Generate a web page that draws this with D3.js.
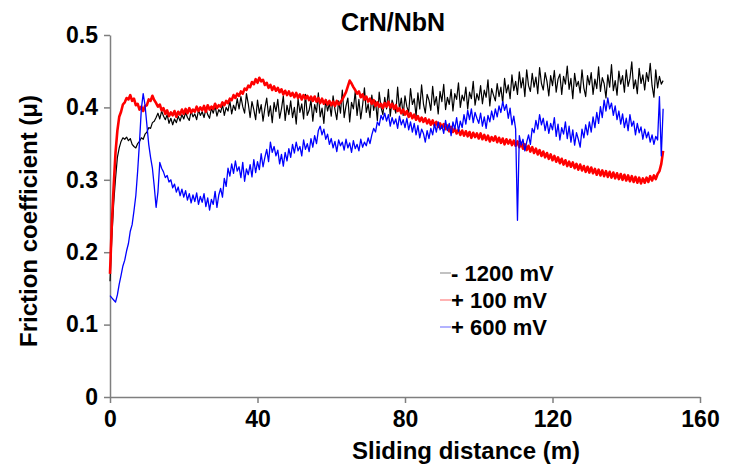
<!DOCTYPE html>
<html>
<head>
<meta charset="utf-8">
<script src="https://cdn.jsdelivr.net/npm/d3@7"></script>
<style>
  body { margin: 0; background: #fff; }
  svg text { font-family: "Liberation Sans", Arial, sans-serif; font-weight: bold; }
</style>
</head>
<body>
<div id="chart"></div>
<script>
// readings were logged every 0.5 m of sliding, from 0 to 150 m
const distanceStep = 0.5;
const xTicks = [0, 40, 80, 120, 160];
const yTicks = [0, 0.1, 0.2, 0.3, 0.4, 0.5];
const seriesNames = ["- 1200 mV", "+ 100 mV", "+ 600 mV"];

// - 1200 mV
const minus1200 = [
  0.160, 0.220, 0.268, 0.302, 0.331, 0.344, 0.353, 0.358, 0.356, 0.359,
  0.354, 0.357, 0.349, 0.346, 0.344, 0.350, 0.353, 0.358, 0.356, 0.363,
  0.366, 0.372, 0.371, 0.379, 0.381, 0.386, 0.392, 0.384, 0.395, 0.388,
  0.383, 0.390, 0.378, 0.385, 0.376, 0.384, 0.379, 0.388, 0.381, 0.390,
  0.384, 0.393, 0.386, 0.382, 0.395, 0.387, 0.391, 0.383, 0.396, 0.389,
  0.394, 0.386, 0.398, 0.390, 0.385, 0.399, 0.392, 0.402, 0.388, 0.397,
  0.393, 0.404, 0.389, 0.400, 0.395, 0.409, 0.391, 0.403, 0.396, 0.412,
  0.398, 0.415, 0.401, 0.392, 0.419, 0.405, 0.386, 0.408, 0.397, 0.383,
  0.410, 0.392, 0.404, 0.381, 0.399, 0.413, 0.388, 0.402, 0.379, 0.407,
  0.394, 0.411, 0.385, 0.398, 0.416, 0.382, 0.403, 0.390, 0.409, 0.386,
  0.400, 0.377, 0.412, 0.393, 0.405, 0.384, 0.418, 0.389, 0.396, 0.410,
  0.381, 0.404, 0.393, 0.420, 0.387, 0.399, 0.378, 0.411, 0.395, 0.406,
  0.388, 0.416, 0.397, 0.383, 0.409, 0.392, 0.424, 0.386, 0.402, 0.413,
  0.380, 0.407, 0.398, 0.422, 0.389, 0.411, 0.384, 0.403, 0.427, 0.393,
  0.405, 0.386, 0.417, 0.396, 0.409, 0.382, 0.421, 0.400, 0.390, 0.414,
  0.398, 0.425, 0.388, 0.410, 0.402, 0.392, 0.428, 0.397, 0.413, 0.389,
  0.416, 0.401, 0.393, 0.426, 0.404, 0.412, 0.388, 0.420, 0.398, 0.431,
  0.405, 0.392, 0.418, 0.410, 0.396, 0.429, 0.403, 0.415, 0.391, 0.422,
  0.408, 0.432, 0.397, 0.414, 0.404, 0.425, 0.395, 0.419, 0.411, 0.434,
  0.400, 0.417, 0.409, 0.428, 0.398, 0.421, 0.412, 0.436, 0.403, 0.419,
  0.410, 0.430, 0.405, 0.424, 0.414, 0.438, 0.402, 0.426, 0.417, 0.409,
  0.433, 0.415, 0.428, 0.406, 0.440, 0.420, 0.431, 0.412, 0.445, 0.423,
  0.436, 0.418, 0.449, 0.427, 0.441, 0.415, 0.452, 0.430, 0.422, 0.447,
  0.428, 0.442, 0.419, 0.455, 0.433, 0.424, 0.448, 0.436, 0.416, 0.444,
  0.430, 0.451, 0.421, 0.439, 0.446, 0.418, 0.443, 0.432, 0.457, 0.425,
  0.440, 0.412, 0.447, 0.429, 0.436, 0.420, 0.452, 0.427, 0.415, 0.444,
  0.431, 0.448, 0.418, 0.439, 0.426, 0.456, 0.422, 0.441, 0.433, 0.413,
  0.445, 0.428, 0.459, 0.423, 0.437, 0.417, 0.450, 0.432, 0.444, 0.421,
  0.452, 0.429, 0.440, 0.463, 0.426, 0.438, 0.419, 0.454, 0.433, 0.445,
  0.424, 0.448, 0.436, 0.461, 0.430, 0.414, 0.452, 0.427, 0.443, 0.432,
  0.437
];

// + 100 mV
const plus100 = [
  0.170, 0.240, 0.292, 0.338, 0.368, 0.387, 0.394, 0.404, 0.407, 0.413,
  0.411, 0.417, 0.409, 0.412, 0.403, 0.405, 0.397, 0.401, 0.395, 0.402,
  0.403, 0.411, 0.409, 0.416, 0.410, 0.406, 0.401, 0.404, 0.396, 0.399,
  0.391, 0.396, 0.388, 0.393, 0.389, 0.395, 0.387, 0.394, 0.390, 0.397,
  0.391, 0.398, 0.392, 0.399, 0.393, 0.397, 0.394, 0.401, 0.395, 0.400,
  0.396, 0.402, 0.394, 0.403, 0.397, 0.401, 0.398, 0.405, 0.399, 0.403,
  0.401, 0.407, 0.403, 0.409, 0.406, 0.412, 0.410, 0.417, 0.413, 0.419,
  0.416, 0.422, 0.419, 0.426, 0.424, 0.430, 0.428, 0.435, 0.432, 0.439,
  0.434, 0.441, 0.436, 0.438, 0.431, 0.434, 0.427, 0.431, 0.424, 0.429,
  0.423, 0.427, 0.421, 0.425, 0.418, 0.423, 0.417, 0.422, 0.416, 0.420,
  0.414, 0.420, 0.413, 0.418, 0.411, 0.417, 0.412, 0.416, 0.410, 0.415,
  0.409, 0.415, 0.408, 0.413, 0.406, 0.412, 0.405, 0.410, 0.404, 0.409,
  0.403, 0.408, 0.402, 0.409, 0.404, 0.407, 0.411, 0.416, 0.421, 0.429,
  0.437, 0.433, 0.428, 0.424, 0.419, 0.422, 0.414, 0.418, 0.411, 0.415,
  0.408, 0.412, 0.405, 0.410, 0.402, 0.407, 0.401, 0.405, 0.399, 0.406,
  0.401, 0.408, 0.400, 0.405, 0.398, 0.403, 0.395, 0.399, 0.392, 0.397,
  0.390, 0.395, 0.387, 0.392, 0.385, 0.390, 0.383, 0.388, 0.381, 0.386,
  0.380, 0.385, 0.378, 0.383, 0.376, 0.382, 0.375, 0.380, 0.373, 0.378,
  0.372, 0.377, 0.370, 0.375, 0.367, 0.373, 0.366, 0.371, 0.364, 0.369,
  0.362, 0.368, 0.361, 0.367, 0.360, 0.366, 0.358, 0.365, 0.359, 0.364,
  0.357, 0.364, 0.356, 0.362, 0.355, 0.361, 0.353, 0.359, 0.354, 0.360,
  0.352, 0.358, 0.351, 0.357, 0.349, 0.356, 0.350, 0.355, 0.348, 0.354,
  0.347, 0.353, 0.345, 0.351, 0.343, 0.349, 0.341, 0.347, 0.339, 0.345,
  0.337, 0.343, 0.335, 0.341, 0.333, 0.339, 0.331, 0.337, 0.329, 0.335,
  0.327, 0.333, 0.325, 0.331, 0.323, 0.329, 0.321, 0.327, 0.319, 0.325,
  0.318, 0.324, 0.316, 0.322, 0.314, 0.321, 0.313, 0.319, 0.311, 0.318,
  0.310, 0.317, 0.309, 0.315, 0.307, 0.314, 0.306, 0.313, 0.305, 0.312,
  0.304, 0.311, 0.303, 0.310, 0.302, 0.309, 0.301, 0.308, 0.300, 0.307,
  0.299, 0.306, 0.298, 0.305, 0.297, 0.304, 0.296, 0.303, 0.295, 0.302,
  0.296, 0.303, 0.297, 0.305, 0.299, 0.306, 0.301, 0.308, 0.312, 0.322,
  0.340
];

// + 600 mV
const plus600 = [
  0.140, 0.137, 0.134, 0.131, 0.141, 0.156, 0.168, 0.181, 0.189, 0.202,
  0.212, 0.229, 0.238, 0.257, 0.278, 0.312, 0.352, 0.398, 0.419, 0.403,
  0.376, 0.349, 0.331, 0.316, 0.291, 0.262, 0.283, 0.324, 0.316, 0.311,
  0.303, 0.306, 0.297, 0.300, 0.289, 0.294, 0.283, 0.290, 0.278, 0.287,
  0.276, 0.285, 0.272, 0.281, 0.268, 0.279, 0.270, 0.282, 0.266, 0.277,
  0.269, 0.281, 0.263, 0.275, 0.258, 0.273, 0.266, 0.284, 0.262, 0.279,
  0.288, 0.276, 0.302, 0.291, 0.316, 0.305, 0.322, 0.309, 0.326, 0.312,
  0.318, 0.303, 0.324, 0.298, 0.315, 0.307, 0.321, 0.304, 0.328, 0.310,
  0.325, 0.314, 0.336, 0.318, 0.331, 0.342, 0.325, 0.352, 0.338, 0.346,
  0.333, 0.341, 0.322, 0.335, 0.319, 0.338, 0.326, 0.343, 0.331, 0.349,
  0.337, 0.352, 0.340, 0.346, 0.333, 0.355, 0.342, 0.350, 0.339, 0.357,
  0.345, 0.361, 0.350, 0.368, 0.374, 0.362, 0.370, 0.356, 0.363, 0.349,
  0.357, 0.344, 0.353, 0.339, 0.355, 0.347, 0.352, 0.341, 0.356, 0.344,
  0.351, 0.338, 0.354, 0.343, 0.349, 0.340, 0.356, 0.345, 0.352, 0.347,
  0.358, 0.350, 0.362, 0.371, 0.366, 0.380, 0.375, 0.389, 0.383, 0.392,
  0.381, 0.390, 0.374, 0.386, 0.377, 0.384, 0.371, 0.388, 0.376, 0.383,
  0.372, 0.385, 0.369, 0.380, 0.366, 0.378, 0.362, 0.375, 0.358, 0.370,
  0.364, 0.352, 0.368, 0.357, 0.371, 0.362, 0.377, 0.366, 0.380, 0.369,
  0.375, 0.364, 0.382, 0.368, 0.378, 0.361, 0.380, 0.370, 0.386, 0.367,
  0.381, 0.372, 0.390, 0.377, 0.396, 0.383, 0.398, 0.379, 0.393, 0.385,
  0.378, 0.392, 0.374, 0.387, 0.371, 0.389, 0.380, 0.395, 0.383, 0.398,
  0.387, 0.402, 0.393, 0.408, 0.396, 0.404, 0.385, 0.399, 0.376, 0.388,
  0.370, 0.244, 0.361, 0.348, 0.356, 0.340, 0.352, 0.362, 0.349, 0.371,
  0.365, 0.382, 0.370, 0.390, 0.376, 0.385, 0.368, 0.381, 0.364, 0.378,
  0.369, 0.386, 0.360, 0.377, 0.355, 0.372, 0.363, 0.380, 0.357, 0.374,
  0.352, 0.369, 0.348, 0.365, 0.356, 0.345, 0.370, 0.358, 0.376, 0.362,
  0.380, 0.366, 0.387, 0.372, 0.393, 0.378, 0.401, 0.386, 0.410, 0.395,
  0.413, 0.398, 0.406, 0.389, 0.402, 0.383, 0.395, 0.377, 0.391, 0.372,
  0.385, 0.368, 0.390, 0.374, 0.381, 0.362, 0.378, 0.365, 0.373, 0.356,
  0.370, 0.358, 0.366, 0.352, 0.362, 0.349, 0.360, 0.355, 0.415, 0.333,
  0.398
];

const seriesValues = [minus1200, plus100, plus600];
const lineColors = ["#000000", "#ff0000", "#0000ff"];
const lineWidths = [1.2, 2.6, 1.3];
const legendColors = ["#9a9a9a", "#ff8080", "#8080ff"];

var width = 732, height = 466;

var svg = d3.select("#chart")
    .append("svg")
    .attr("width", width)
    .attr("height", height);

var x = d3.scaleLinear().domain([0, 160]).range([110, 700]);
var y = d3.scaleLinear().domain([0, 0.5]).range([397, 35]);

// x axis
var xAxis = svg.append("g")
    .attr("transform", "translate(0," + y(0) + ")")
    .call(d3.axisBottom(x).tickValues(xTicks).tickSize(6).tickSizeOuter(0).tickPadding(8));

// y axis
var yAxis = svg.append("g")
    .attr("transform", "translate(" + x(0) + ",0)")
    .call(d3.axisLeft(y).tickValues(yTicks).tickSize(6).tickSizeOuter(0).tickPadding(6)
        .tickFormat(function(d) { return d === 0 ? "0" : d3.format(".1f")(d); }));

[xAxis, yAxis].forEach(function(g) {
    g.attr("font-size", 23).attr("font-family", null);
    g.select(".domain").attr("stroke", "#7f7f7f").attr("stroke-width", 1.5);
    g.selectAll(".tick line").attr("stroke", "#7f7f7f").attr("stroke-width", 1.5);
    g.selectAll(".tick text").attr("fill", "#000");
});

// the three friction traces
var line = d3.line()
    .x(function(d, i) { return x(i * distanceStep); })
    .y(function(d) { return y(d); });

svg.selectAll(".trace")
    .data(seriesValues)
    .enter()
    .append("path")
    .attr("class", "trace")
    .attr("fill", "none")
    .attr("stroke", function(d, i) { return lineColors[i]; })
    .attr("stroke-width", function(d, i) { return lineWidths[i]; })
    .attr("stroke-linejoin", "round")
    .attr("d", line);

// title and axis titles
svg.append("text")
    .attr("x", 393).attr("y", 31)
    .attr("text-anchor", "middle")
    .attr("font-size", 25)
    .text("CrN/NbN");

svg.append("text")
    .attr("x", 466).attr("y", 459)
    .attr("text-anchor", "middle")
    .attr("font-size", 24)
    .text("Sliding distance (m)");

svg.append("text")
    .attr("transform", "translate(37,221) rotate(-90)")
    .attr("text-anchor", "middle")
    .attr("font-size", 24)
    .text("Friction coefficient (\u03bc)");

// legend
var legend = svg.selectAll(".legend")
    .data(seriesNames)
    .enter().append("g")
    .attr("class", "legend")
    .attr("transform", function(d, i) { return "translate(440," + (273 + i * 27) + ")"; });

legend.append("line")
    .attr("x1", 0).attr("x2", 11)
    .attr("stroke", function(d, i) { return legendColors[i]; })
    .attr("stroke-width", 1.2);

legend.append("text")
    .attr("x", 11)
    .attr("dy", "0.35em")
    .attr("font-size", 22)
    .text(function(d) { return d; });
</script>
</body>
</html>
